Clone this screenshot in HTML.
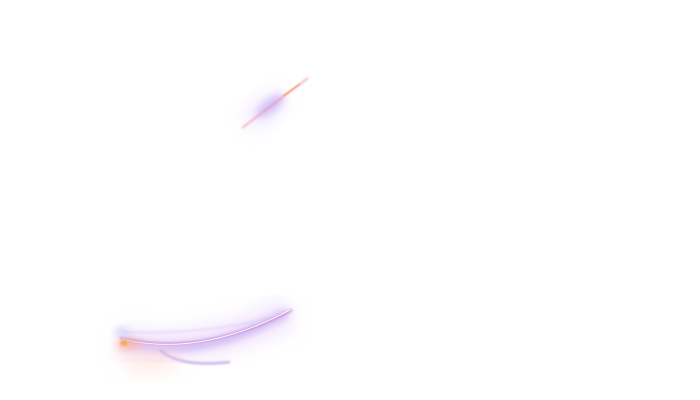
<!DOCTYPE html>
<html><head><meta charset="utf-8"><style>
html,body{margin:0;padding:0;background:#fff;width:700px;height:400px;overflow:hidden}
</style></head><body>
<svg width="700" height="400" viewBox="0 0 700 400" xmlns="http://www.w3.org/2000/svg">
<defs>
<filter id="b1" x="-50%" y="-50%" width="200%" height="200%"><feGaussianBlur stdDeviation="1"/></filter>
<filter id="b4" x="-50%" y="-50%" width="200%" height="200%"><feGaussianBlur stdDeviation="4"/></filter>
<filter id="b8" x="-50%" y="-50%" width="200%" height="200%"><feGaussianBlur stdDeviation="9"/></filter>
</defs>
<rect width="700" height="400" fill="#fff"/>
<!-- upper streak -->
<ellipse cx="270" cy="106" rx="16" ry="6" transform="rotate(-38 270 106)" fill="#a58af0" opacity="0.7" filter="url(#b4)"/>
<ellipse cx="265" cy="110" rx="24" ry="12" transform="rotate(-38 265 110)" fill="#e7d8fb" opacity="0.6" filter="url(#b8)"/>
<line x1="242" y1="128" x2="308" y2="78" stroke="#f08aa0" stroke-width="1.5" opacity="0.8" filter="url(#b1)"/>
<line x1="283" y1="96" x2="300" y2="84" stroke="#f0a050" stroke-width="1.5" opacity="0.7"/>
<!-- lower arc glow -->
<path d="M120 340 Q190 360 290 312" stroke="#eedcfb" stroke-width="30" fill="none" opacity="0.7" filter="url(#b8)"/>
<path d="M125 342 Q200 362 288 312" stroke="#b896ee" stroke-width="7" fill="none" opacity="0.7" filter="url(#b4)"/>
<path d="M120 338 Q200 358 292 310" stroke="#c070c8" stroke-width="2" fill="none" opacity="0.8" filter="url(#b1)"/>
<path d="M122 339 Q200 358 290 310" stroke="#fff" stroke-width="1" fill="none" opacity="0.9"/>
<path d="M160 350 Q180 368 230 362" stroke="#b090e0" stroke-width="2.5" fill="none" opacity="0.7" filter="url(#b1)"/>
<path d="M125 332 Q200 335 270 318" stroke="#d6c3f3" stroke-width="2" fill="none" opacity="0.5" filter="url(#b1)"/>
<ellipse cx="128" cy="345" rx="12" ry="6" fill="#ffb090" opacity="0.7" filter="url(#b4)"/>
<ellipse cx="124" cy="343" rx="4" ry="3" fill="#f0a040" opacity="0.8" filter="url(#b1)"/>
<ellipse cx="150" cy="360" rx="30" ry="12" fill="#ffd8d0" opacity="0.5" filter="url(#b8)"/>
<ellipse cx="122" cy="332" rx="6" ry="4" fill="#9bb0f0" opacity="0.6" filter="url(#b4)"/>
</svg>
</body></html>
